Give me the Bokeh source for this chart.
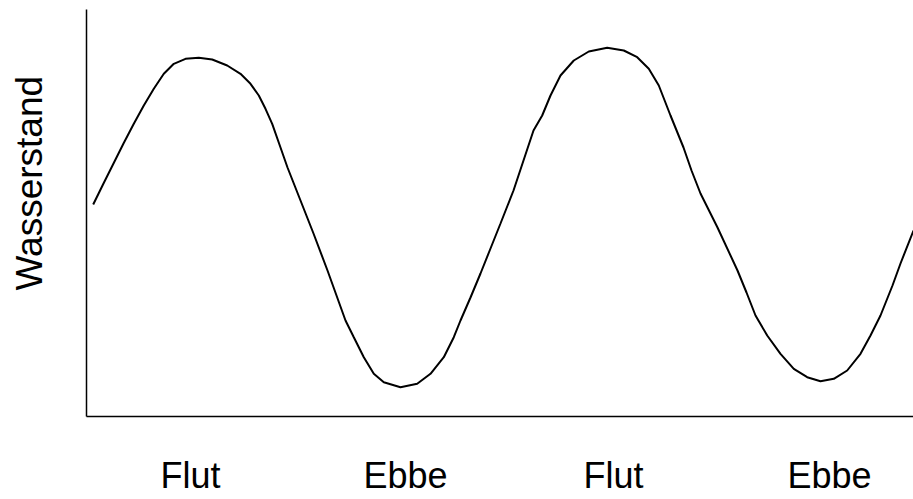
from bokeh.plotting import figure
from bokeh.models import Range1d, FixedTicker, Title
from bokeh.embed import file_html
from bokeh.resources import INLINE

# Water level curve (time in arbitrary units, level in arbitrary units)
time = [0.67, 1.7, 2.7, 3.7, 4.73, 5.73, 6.73, 7.73, 8.73, 9.9, 11.23, 12.57, 14.07, 15.4,
        16.4, 17.23, 17.9, 18.57, 19.4, 20.1, 21.4, 22.7, 24.1, 25.0, 25.9, 26.73, 27.73,
        28.73, 29.73, 31.4, 33.07, 34.4, 35.73, 36.73, 37.4, 38.4, 39.4, 40.4, 41.4, 42.7,
        43.7, 44.7, 45.57, 46.4, 47.4, 48.73, 50.23, 52.07, 53.73, 55.07, 56.23, 57.23,
        58.4, 59.7, 60.5, 61.4, 63.1, 65.1, 66.0, 66.9, 68.07, 69.4, 70.73, 72.07, 73.4,
        74.73, 76.07, 77.4, 78.4, 79.4, 80.6, 81.4, 82.7]
level = [21.2, 23.3, 25.3, 27.3, 29.27, 31.1, 32.77, 34.27, 35.27, 35.77, 35.87, 35.7, 35.1, 34.27,
         33.27, 32.1, 30.77, 29.27, 26.9, 24.9, 21.6, 18.3, 14.6, 12.1, 9.6, 7.93, 5.93,
         4.27, 3.43, 2.93, 3.27, 4.27, 5.93, 7.93, 9.6, 11.9, 14.3, 16.8, 19.3, 22.6,
         25.6, 28.6, 30.1, 32.1, 34.1, 35.6, 36.5, 36.87, 36.6, 35.93, 34.77, 33.1,
         30.1, 26.9, 24.6, 22.3, 18.9, 14.6, 12.4, 10.1, 8.1, 6.27, 4.77, 3.93, 3.53,
         3.77, 4.6, 6.27, 8.1, 10.1, 13.1, 15.3, 18.6]

tick_pos = [10.4, 31.9, 52.7, 74.3]
tick_labels = ["Flut", "Ebbe", "Flut", "Ebbe"]
y_label = "Wasserstand"

FONT = "Liberation Sans"

p = figure(width=913, height=499, output_backend="svg", toolbar_location=None,
           x_range=Range1d(0, 82.7), y_range=Range1d(0, 40.7),
           min_border_left=86, min_border_right=0, min_border_top=9, min_border_bottom=83)
p.outline_line_color = None
p.xgrid.grid_line_color = None
p.ygrid.grid_line_color = None
p.background_fill_color = "white"
p.border_fill_color = "white"

p.line(time, level, line_color="black", line_width=2)

xa = p.xaxis[0]
xa.ticker = FixedTicker(ticks=tick_pos)
xa.major_label_overrides = {t: l for t, l in zip(tick_pos, tick_labels)}
xa.major_tick_line_color = None
xa.minor_tick_line_color = None
xa.major_tick_out = 0
xa.major_tick_in = 0
xa.minor_tick_out = 0
xa.major_label_standoff = 38
xa.major_label_text_font = FONT
xa.major_label_text_font_size = "36px"
xa.major_label_text_color = "black"
xa.axis_line_color = "black"
xa.axis_line_width = 1.5

ya = p.yaxis[0]
ya.ticker = FixedTicker(ticks=[])
ya.major_tick_line_color = None
ya.minor_tick_line_color = None
ya.major_tick_out = 0
ya.minor_tick_out = 0
ya.major_label_text_font_size = "0px"
ya.axis_line_color = "black"
ya.axis_line_width = 1.5
# invisible spacer so the rotated title sits further left
ya.axis_label = " "
ya.axis_label_text_font_size = "1px"
ya.axis_label_standoff = 32

t = Title(text=y_label, align="left", offset=126, standoff=2, text_font=FONT,
          text_font_size="37px", text_font_style="normal", text_color="black",
          text_line_height=1.0)
p.add_layout(t, "left")

open("out.html", "w").write(file_html(p, INLINE))
